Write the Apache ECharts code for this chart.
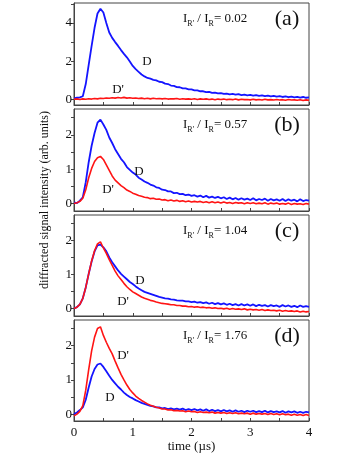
<!DOCTYPE html>
<html>
<head>
<meta charset="utf-8">
<script src="https://cdn.jsdelivr.net/npm/echarts@6/dist/echarts.min.js"></script>
<style>
  html, body { margin: 0; padding: 0; background: #fff; }
  #chart { width: 354px; height: 459px; }
</style>
</head>
<body>
<div id="chart"></div>
<script>
// time samples (µs)
const times = [0, 0.05, 0.1, 0.15, 0.2, 0.25, 0.3, 0.35, 0.4, 0.45, 0.5, 0.55, 0.6, 0.65, 0.7, 0.75, 0.8, 0.85, 0.9, 0.95,
  1, 1.05, 1.1, 1.15, 1.2, 1.25, 1.3, 1.35, 1.4, 1.45, 1.5, 1.55, 1.6, 1.65, 1.7, 1.75, 1.8, 1.85, 1.9, 1.95,
  2, 2.05, 2.1, 2.15, 2.2, 2.25, 2.3, 2.35, 2.4, 2.45, 2.5, 2.55, 2.6, 2.65, 2.7, 2.75, 2.8, 2.85, 2.9, 2.95,
  3, 3.05, 3.1, 3.15, 3.2, 3.25, 3.3, 3.35, 3.4, 3.45, 3.5, 3.55, 3.6, 3.65, 3.7, 3.75, 3.8, 3.85, 3.9, 3.95, 4];

// panel (a)
const blueA = [0.05, 0.08, 0.1, 0.16, 0.8, 1.8, 2.8, 3.75, 4.5, 4.75,
  4.55, 4.0, 3.5, 3.22, 3.0, 2.8, 2.58, 2.38, 2.2, 1.98,
  1.75, 1.58, 1.44, 1.3, 1.2, 1.12, 1.08, 1.02, 0.99, 0.92,
  0.9, 0.82, 0.8, 0.72, 0.7, 0.64, 0.63, 0.57, 0.57, 0.52,
  0.52, 0.47, 0.47, 0.42, 0.42, 0.37, 0.39, 0.34, 0.35, 0.31,
  0.32, 0.28, 0.3, 0.26, 0.28, 0.24, 0.27, 0.22, 0.25, 0.21,
  0.23, 0.19, 0.22, 0.18, 0.2, 0.16, 0.19, 0.15, 0.18, 0.14,
  0.16, 0.12, 0.15, 0.11, 0.14, 0.1, 0.13, 0.09, 0.12, 0.08, 0.1];
const redA = [0.0, 0.02, -0.01, 0.02, 0.0, 0.03, 0.01, 0.04, 0.02, 0.05,
  0.04, 0.07, 0.05, 0.08, 0.06, 0.09, 0.07, 0.1, 0.06, 0.08,
  0.05, 0.07, 0.04, 0.06, 0.03, 0.05, 0.02, 0.05, 0.03, 0.04,
  0.02, 0.04, 0.01, 0.03, 0.02, 0.04, 0.0, 0.03, 0.01, 0.02,
  0.0, 0.03, -0.01, 0.02, 0.0, 0.02, -0.01, 0.01, -0.02, 0.01,
  -0.01, 0.01, -0.02, 0.0, -0.02, 0.01, -0.03, 0.0, -0.02, -0.01,
  -0.03, 0.0, -0.03, -0.01, -0.04, 0.0, -0.03, -0.02, -0.04, -0.01,
  -0.04, -0.02, -0.05, -0.01, -0.04, -0.03, -0.05, -0.02, -0.06, -0.03, -0.05];

// panel (b)
const blueB = [0.03, 0.01, 0.08, 0.18, 0.62, 1.2, 1.68, 2.05, 2.35, 2.44,
  2.3, 2.14, 1.92, 1.76, 1.58, 1.44, 1.3, 1.2, 1.06, 0.98,
  0.9, 0.84, 0.75, 0.7, 0.64, 0.6, 0.55, 0.52, 0.47, 0.45,
  0.4, 0.39, 0.35, 0.35, 0.3, 0.31, 0.27, 0.28, 0.24, 0.26,
  0.22, 0.24, 0.2, 0.23, 0.18, 0.22, 0.17, 0.2, 0.16, 0.19,
  0.15, 0.18, 0.13, 0.17, 0.12, 0.16, 0.11, 0.15, 0.11, 0.14,
  0.1, 0.15, 0.09, 0.13, 0.1, 0.14, 0.08, 0.13, 0.09, 0.12,
  0.08, 0.13, 0.07, 0.12, 0.08, 0.11, 0.06, 0.12, 0.07, 0.1, 0.08];
const redB = [0.0, 0.02, 0.06, 0.15, 0.4, 0.75, 1.02, 1.22, 1.33, 1.37,
  1.28, 1.12, 0.96, 0.8, 0.68, 0.6, 0.52, 0.46, 0.39, 0.35,
  0.3, 0.27, 0.23, 0.21, 0.18, 0.17, 0.14, 0.15, 0.12, 0.13,
  0.1, 0.11, 0.08, 0.1, 0.07, 0.09, 0.06, 0.08, 0.05, 0.07,
  0.04, 0.06, 0.04, 0.06, 0.03, 0.05, 0.02, 0.05, 0.02, 0.04,
  0.01, 0.04, 0.01, 0.03, 0.0, 0.03, 0.01, 0.02, -0.01, 0.02,
  0.0, 0.02, -0.01, 0.01, -0.01, 0.02, -0.02, 0.01, -0.01, 0.01,
  -0.02, 0.0, -0.02, 0.01, -0.03, 0.0, -0.02, -0.01, -0.03, 0.0, -0.02];

// panel (c)
const blueC = [0.0, 0.04, 0.12, 0.3, 0.62, 1.02, 1.38, 1.68, 1.86, 1.88,
  1.8, 1.68, 1.5, 1.36, 1.24, 1.12, 1.02, 0.94, 0.86, 0.78,
  0.72, 0.65, 0.59, 0.54, 0.49, 0.46, 0.43, 0.4, 0.37, 0.34,
  0.32, 0.3, 0.29, 0.27, 0.26, 0.24, 0.23, 0.23, 0.21, 0.21,
  0.19, 0.2, 0.17, 0.19, 0.16, 0.18, 0.14, 0.17, 0.13, 0.16,
  0.12, 0.15, 0.11, 0.14, 0.1, 0.13, 0.09, 0.13, 0.09, 0.12,
  0.08, 0.12, 0.07, 0.11, 0.08, 0.1, 0.06, 0.1, 0.07, 0.09,
  0.05, 0.1, 0.06, 0.09, 0.05, 0.08, 0.04, 0.09, 0.05, 0.07, 0.05];
const redC = [0.0, 0.04, 0.12, 0.3, 0.62, 1.02, 1.4, 1.7, 1.9, 1.96,
  1.78, 1.62, 1.44, 1.27, 1.1, 0.96, 0.85, 0.74, 0.64, 0.56,
  0.49, 0.44, 0.39, 0.34, 0.3, 0.27, 0.24, 0.22, 0.19, 0.17,
  0.15, 0.14, 0.13, 0.11, 0.11, 0.09, 0.09, 0.07, 0.07, 0.05,
  0.06, 0.04, 0.05, 0.03, 0.04, 0.02, 0.03, 0.01, 0.02, 0.0,
  0.01, -0.01, 0.01, -0.02, 0.0, -0.02, -0.01, -0.03, -0.01, -0.04,
  -0.02, -0.04, -0.03, -0.05, -0.03, -0.06, -0.04, -0.06, -0.05, -0.07,
  -0.05, -0.08, -0.06, -0.08, -0.07, -0.09, -0.07, -0.1, -0.08, -0.1, -0.09];

// panel (d)
const blueD = [0.0, 0.05, 0.12, 0.2, 0.42, 0.78, 1.1, 1.32, 1.45, 1.48,
  1.38, 1.25, 1.12, 1.0, 0.9, 0.8, 0.72, 0.63, 0.56, 0.5,
  0.46, 0.41, 0.37, 0.33, 0.3, 0.27, 0.24, 0.23, 0.2, 0.2,
  0.17, 0.18, 0.15, 0.17, 0.14, 0.16, 0.13, 0.16, 0.12, 0.15,
  0.12, 0.15, 0.11, 0.14, 0.1, 0.14, 0.09, 0.13, 0.09, 0.12,
  0.08, 0.12, 0.08, 0.11, 0.07, 0.11, 0.07, 0.1, 0.06, 0.1,
  0.07, 0.1, 0.06, 0.09, 0.06, 0.1, 0.05, 0.09, 0.06, 0.08,
  0.05, 0.09, 0.04, 0.08, 0.05, 0.08, 0.04, 0.07, 0.04, 0.07, 0.05];
const redD = [-0.05, 0.0, 0.08, 0.25, 0.7, 1.3, 1.85, 2.25, 2.5, 2.55,
  2.3, 2.1, 1.92, 1.76, 1.55, 1.35, 1.16, 1.0, 0.85, 0.72,
  0.62, 0.53, 0.46, 0.4, 0.35, 0.3, 0.26, 0.23, 0.2, 0.18,
  0.15, 0.15, 0.12, 0.13, 0.1, 0.11, 0.09, 0.1, 0.07, 0.09,
  0.07, 0.08, 0.05, 0.07, 0.05, 0.06, 0.04, 0.06, 0.03, 0.05,
  0.03, 0.05, 0.02, 0.04, 0.02, 0.04, 0.01, 0.03, 0.01, 0.03,
  0.0, 0.03, 0.0, 0.02, 0.0, 0.02, -0.01, 0.02, -0.01, 0.01,
  -0.02, 0.01, -0.02, 0.0, -0.03, 0.0, -0.03, -0.01, -0.04, -0.01, -0.04];

const xTicks = [0, 1, 2, 3, 4];
const yLabelsA = [0, 2, 4];
const yTickMarksA = [0, 1, 2, 3, 4, 5];
const yLabelsB = [0, 1, 2];
const yTickMarksB = [0, 0.5, 1, 1.5, 2, 2.5];
const ratios = ["0.02", "0.57", "1.04", "1.76"];
const panelNames = ["(a)", "(b)", "(c)", "(d)"];

const BLUE = "#1414ff";
const RED = "#ff1414";
const AXIS = "#444";
const SERIF = "'Liberation Serif', 'DejaVu Serif', serif";

const panels = [
  { top: 3, height: 102, min: -0.3, max: 5.05, labels: yLabelsA, marks: yTickMarksA, blue: blueA, red: redA,
    notes: [["D", 147, 62], ["D'", 118, 90]] },
  { top: 109, height: 102, min: -0.22, max: 2.75, labels: yLabelsB, marks: yTickMarksB, blue: blueB, red: redB,
    notes: [["D", 139, 172], ["D'", 108, 190]] },
  { top: 215, height: 101, min: -0.22, max: 2.75, labels: yLabelsB, marks: yTickMarksB, blue: blueC, red: redC,
    notes: [["D", 140, 281], ["D'", 123, 302]] },
  { top: 320, height: 101, min: -0.2, max: 2.75, labels: yLabelsB, marks: yTickMarksB, blue: blueD, red: redD,
    notes: [["D'", 123, 356], ["D", 110, 398]] },
];

const pairs = (ys) => times.map((t, i) => [t, ys[i]]);

const grid = [];
const xAxis = [];
const yAxis = [];
const series = [];
const graphic = [];

panels.forEach((p, i) => {
  const last = i === panels.length - 1;
  grid.push({
    left: 74, right: 45, top: p.top, height: p.height,
    show: true, borderColor: AXIS, borderWidth: 1, backgroundColor: "transparent",
  });
  xAxis.push({
    type: "value", gridIndex: i, min: 0, max: 4, interval: 1,
    axisLine: { show: true, onZero: false, lineStyle: { color: AXIS, width: 1 } },
    axisTick: { show: true, inside: true, length: 3, lineStyle: { color: AXIS },
      customValues: xTicks },
    minorTick: { show: true, splitNumber: 2, length: 3, lineStyle: { color: AXIS } },
    axisLabel: { show: last, margin: 5, color: "#111", fontFamily: SERIF, fontSize: 13,
      customValues: xTicks },
    splitLine: { show: false },
    name: last ? "time (\u00b5s)" : "",
    nameLocation: "middle", nameGap: 18,
    nameTextStyle: { color: "#111", fontFamily: SERIF, fontSize: 13 },
  });
  yAxis.push({
    type: "value", gridIndex: i, min: p.min, max: p.max,
    axisLine: { show: true, onZero: false, lineStyle: { color: AXIS, width: 1 } },
    axisTick: { show: true, inside: false, length: 3, lineStyle: { color: AXIS },
      customValues: p.marks },
    axisLabel: { margin: 2, color: "#111", fontFamily: SERIF, fontSize: 13,
      customValues: p.labels },
    splitLine: { show: false },
  });
  series.push({
    type: "line", xAxisIndex: i, yAxisIndex: i, data: pairs(p.blue),
    showSymbol: false, lineStyle: { color: BLUE, width: 1.8 }, z: 2,
  });
  series.push({
    type: "line", xAxisIndex: i, yAxisIndex: i, data: pairs(p.red),
    showSymbol: false, lineStyle: { color: RED, width: 1.6 }, z: 3,
  });

  graphic.push({
    type: "text", x: 183, y: p.top + 16, z: 10,
    style: {
      text: "{m|I}{s|R'}{m| / I}{s|R}{m|= " + ratios[i] + "}",
      verticalAlign: "middle", align: "left",
      rich: {
        m: { fontFamily: SERIF, fontSize: 13, fill: "#111", lineHeight: 18 },
        s: { fontFamily: SERIF, fontSize: 8, fill: "#111", lineHeight: 18, verticalAlign: "bottom" },
      },
    },
  });
  graphic.push({
    type: "text", x: 287, y: p.top + 16, z: 10,
    style: { text: panelNames[i], font: "22px " + SERIF, fill: "#111",
      align: "center", verticalAlign: "middle" },
  });
  p.notes.forEach(([txt, x, y]) => {
    graphic.push({
      type: "text", x: x, y: y, z: 10,
      style: { text: txt, font: "13px " + SERIF, fill: "#111",
        align: "center", verticalAlign: "middle" },
    });
  });
});

graphic.push({
  type: "text", x: 45, y: 200, rotation: Math.PI / 2, z: 10,
  style: { text: "diffracted signal intensity (arb. units)", font: "12px " + SERIF,
    fill: "#111", align: "center", verticalAlign: "middle" },
});

const chart = echarts.init(document.getElementById("chart"));
chart.setOption({
  animation: false,
  backgroundColor: "#fff",
  grid, xAxis, yAxis, series, graphic,
});
</script>
</body>
</html>
